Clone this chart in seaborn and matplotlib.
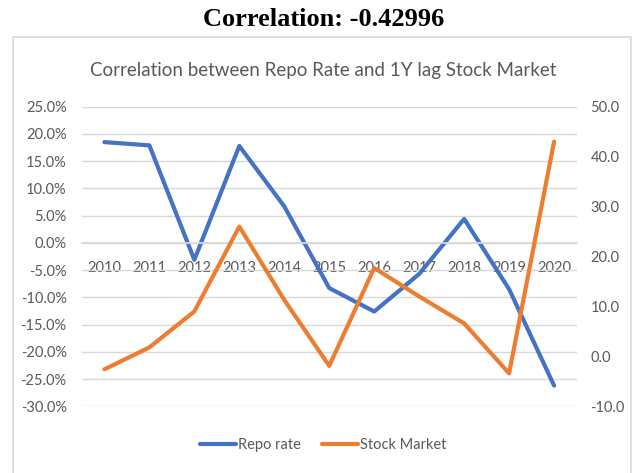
import numpy as np
import pandas as pd
import matplotlib
matplotlib.use("Agg")
import matplotlib.pyplot as plt
from matplotlib.patches import Rectangle
from matplotlib.lines import Line2D
from matplotlib.ticker import FuncFormatter
import seaborn as sns

# Valores
years = ["2010", "2011", "2012", "2013", "2014", "2015",
         "2016", "2017", "2018", "2019", "2020"]
repo_rate = [18.5, 17.9, -3.1, 17.8, 6.7, -8.3, -12.6, -5.7, 4.4, -8.5, -26.2]  # %
stock_market = [-2.6, 1.8, 9.0, 26.0, 11.3, -1.9, 17.7, 12.0, 6.6, -3.4, 43.0]

df = pd.DataFrame({"Year": years, "Repo rate": repo_rate, "Stock Market": stock_market})

BLUE = "#4472C4"
ORANGE = "#ED7D31"
GRAY_TXT = "#595959"
GRID = "#D9D9D9"

sns.set_theme(style="white")
plt.rcParams["font.family"] = ["Lato", "DejaVu Sans"]

fig = plt.figure(figsize=(6.35, 4.73), dpi=100)
ax = fig.add_axes([0.129, 0.141, 0.779, 0.6334])
ax2 = ax.twinx()

sns.lineplot(data=df, x="Year", y="Repo rate", ax=ax, color=BLUE, lw=3.0, legend=False)
sns.lineplot(data=df, x="Year", y="Stock Market", ax=ax2, color=ORANGE, lw=3.0, legend=False)

# Eje izquierdo (porcentaje)
ax.set_ylim(-30, 25)
ax.set_yticks(np.arange(-30, 26, 5))
ax.yaxis.set_major_formatter(FuncFormatter(lambda v, p: f"{v:.1f}%"))
ax.yaxis.grid(True, color=GRID, lw=1)
ax.set_axisbelow(True)

# Eje derecho
ax2.set_ylim(-10, 50)
ax2.set_yticks(np.arange(-10, 51, 10))
ax2.yaxis.set_major_formatter(FuncFormatter(lambda v, p: f"{v:.1f}"))
ax2.grid(False)

ax.set_xlim(-0.5, 10.5)
for a in (ax, ax2):
    a.set_xlabel("")
    a.set_ylabel("")
    for s in a.spines.values():
        s.set_visible(False)

ax.spines["bottom"].set_visible(True)
ax.spines["bottom"].set_position(("data", 0))
ax.spines["bottom"].set_color(GRID)

ax.tick_params(axis="x", length=0, pad=13, labelsize=10.5, labelcolor=GRAY_TXT)
ax.tick_params(axis="y", length=0, pad=11, labelsize=10.5, labelcolor=GRAY_TXT)
ax2.tick_params(axis="y", length=0, pad=10, labelsize=10.5, labelcolor=GRAY_TXT)

# Titulos
fig.text(0.509, 1 - 20 / 473, "Correlation: -0.42996", family="Liberation Serif",
         weight="bold", size=19, ha="center", va="center", color="black")
fig.text(0.509, 0.852, "Correlation between Repo Rate and 1Y lag Stock Market",
         size=13.5, color=GRAY_TXT, ha="center", va="center")

# Leyenda
handles = [Line2D([], [], color=BLUE, lw=3.0, solid_capstyle="round"),
           Line2D([], [], color=ORANGE, lw=3.0, solid_capstyle="round")]
fig.legend(handles, ["Repo rate", "Stock Market"], loc="center",
           bbox_to_anchor=(0.509, 0.059), ncol=2, frameon=False, fontsize=10.5,
           handlelength=2.5, handletextpad=0.15, columnspacing=1.4, labelcolor=GRAY_TXT)

# Marco del area del grafico
fig.patches.append(Rectangle((12.5 / 635, -0.01), 618 / 635, 436 / 473 + 0.01,
                             transform=fig.transFigure, fill=False, ec=GRID, lw=1.2))

fig.savefig("out.png", dpi=100)
